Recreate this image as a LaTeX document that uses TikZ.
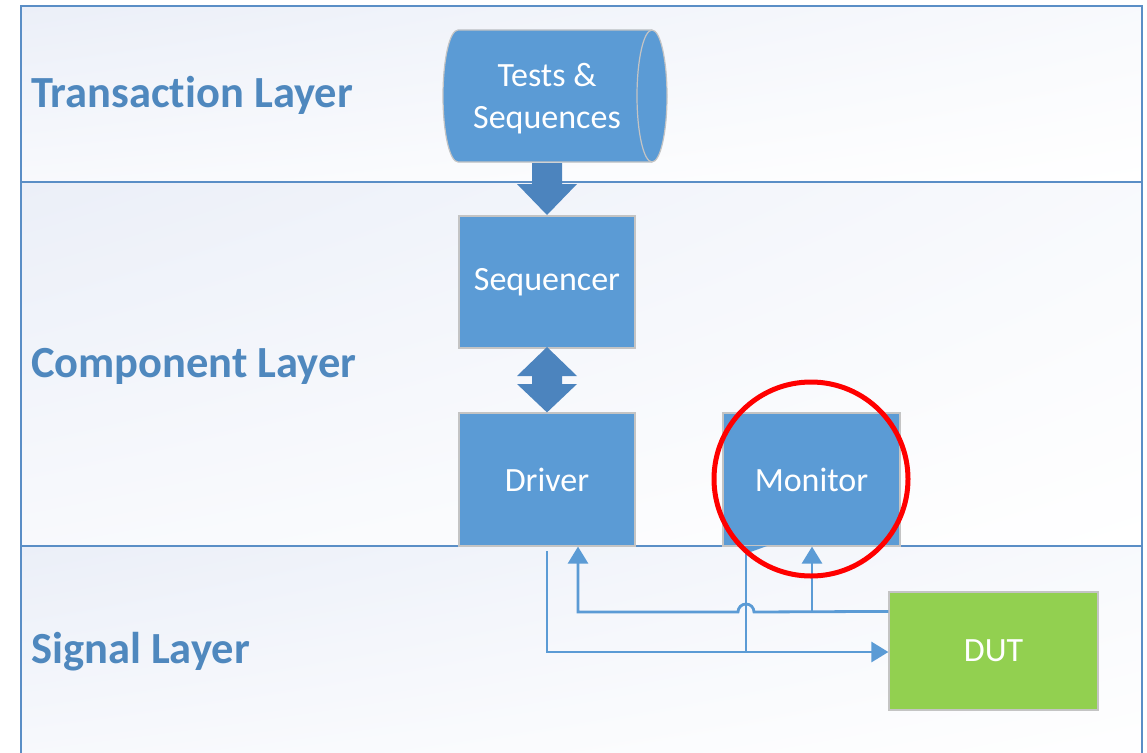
\documentclass[tikz,border=0pt]{standalone}
\usepackage{fontspec}
\setmainfont{Carlito}[Ligatures=NoCommon]
\usetikzlibrary{arrows.meta,calc,shadings}

\definecolor{frameblue}{HTML}{5A8EC6}
\definecolor{labelblue}{HTML}{4F88BE}
\definecolor{boxblue}{HTML}{5B9BD5}
\definecolor{arrowblue}{HTML}{4C84BE}
\definecolor{wireblue}{HTML}{5B9BD5}
\definecolor{dutgreen}{HTML}{92D050}
\definecolor{edgegrey}{HTML}{C4C4C4}
\definecolor{bandtop}{HTML}{EBEFF8}

\tikzset{
  frameline/.style={draw=frameblue, line width=2pt},
  layerlabel/.style={anchor=base west, inner sep=0pt, text=labelblue,
    font=\fontsize{44.5}{50}\selectfont\bfseries},
  block/.style={fill=boxblue, draw=edgegrey, line width=1.2pt, inner sep=0pt,
    text=white, font=\fontsize{34}{41}\selectfont},
  bigarrow/.style={fill=arrowblue, draw=none},
  wire/.style={draw=wireblue, line width=2.8pt},
  tip/.style={-{Triangle[length=17pt 0 0,width=20pt 0 0]}},
  mark ring/.style={draw=red, line width=5pt}
}

\begin{document}
\begin{tikzpicture}[x=1pt,y=-1pt]
\useasboundingbox (0,0) rectangle (1147,752);
\clip (0,0) rectangle (1147,752);

% layer bands with a soft diagonal tint
\foreach \ya/\yb in {6/182,182/546,546/770}{
  \shade[upper left=bandtop, upper right=bandtop!35!white,
         lower left=bandtop!35!white, lower right=white]
    (21,\ya) rectangle (1142,\yb);
}
\draw[frameline] (21,6) rectangle (1142,770);
\draw[frameline] (21,182) -- (1142,182);
\draw[frameline] (21,546) -- (1142,546);

% layer titles
\node[layerlabel] (tl) at (31,107) {Transaction Layer};
\node[layerlabel] (cl) at (31,377) {Component Layer};
\node[layerlabel] (sl) at (31,663) {Signal Layer};

% tests & sequences store (direct-data shape)
\filldraw[fill=boxblue, draw=edgegrey, line width=1.2pt]
  (458,30) -- (652,30)
  .. controls (660.3,30) and (667,59.5) .. (667,96)
  .. controls (667,132.5) and (660.3,162) .. (652,162)
  -- (458,162)
  .. controls (449.7,162) and (443,132.5) .. (443,96)
  .. controls (443,59.5) and (449.7,30) .. (458,30) -- cycle;
\draw[edgegrey, line width=1.2pt] (652,30)
  .. controls (643.7,30) and (637,59.5) .. (637,96)
  .. controls (637,132.5) and (643.7,162) .. (652,162);
\node[align=center, inner sep=0pt, text=white,
  font=\fontsize{34}{42}\selectfont] (tests) at (547,99) {Tests \&\\Sequences};

% component blocks
\node[block, minimum width=176pt, minimum height=132pt] (seq) at (547,282) {Sequencer};
\node[block, minimum width=176pt, minimum height=133pt] (drv) at (547,479.5) {Driver};
\node[block, minimum width=177pt, minimum height=133pt] (mon) at (811.5,479.5) {Monitor};
\node[block, fill=dutgreen, minimum width=209pt, minimum height=118pt] (dut) at (993.5,651) {DUT};

% block arrows
\fill[bigarrow] (532,163) -- (562,163) -- (562,184) -- (577,184)
  -- (547,215) -- (517,184) -- (532,184) -- cycle;
\fill[bigarrow] (547,347) -- (577,376) -- (562,376) -- (562,384) -- (577,384)
  -- (drv.north) -- (517,384) -- (532,384) -- (532,376) -- (517,376) -- cycle;

% signal wiring
\coordinate (drvout) at (547,551);
\coordinate (busA) at (547,652);
\coordinate (rd) at (578,612);
\coordinate (tap) at (812,612);
\coordinate (feed) at (746,652);
\draw[wire, tip] (drvout) -- (busA) -- (busA -| dut.west);
\draw[wire, tip] ($(dut.north west)+(0,20)$) -- (754,612)
  arc[start angle=0, end angle=-180, radius=8] -- (rd) -- (rd |- drv.south);
\draw[wire, tip] (tap) -- (tap |- mon.south);
\draw[wire] (feed) -- (feed |- mon.south);
\fill[wireblue] (745,546) -- (767,546) -- (745,554) -- cycle;

% highlight ring
\draw[mark ring] (811,479) circle[radius=97];
\end{tikzpicture}
\end{document}
